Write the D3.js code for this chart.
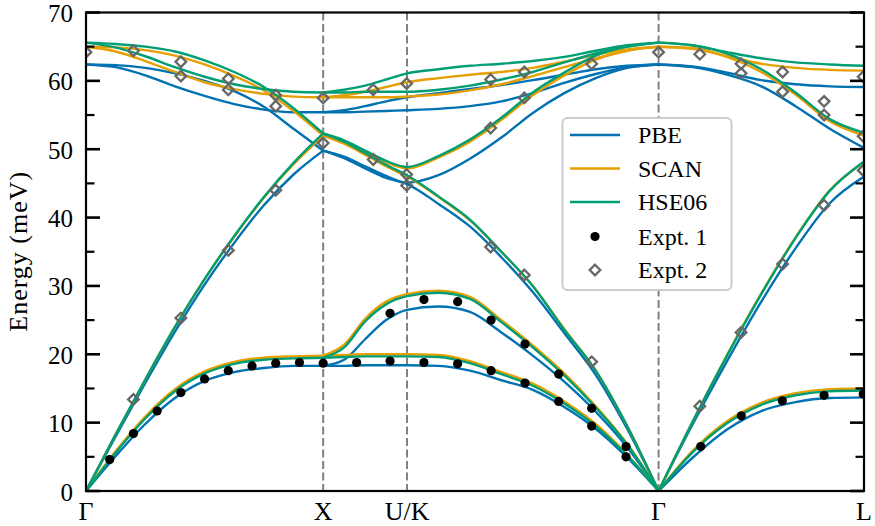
<!DOCTYPE html>
<html>
<head>
<meta charset="utf-8">
<script src="https://cdn.jsdelivr.net/npm/d3@7"></script>
<style>
body { margin: 0; background: #fff; }
svg text { font-family: "Liberation Serif", "DejaVu Serif", serif; fill: #000; }
</style>
</head>
<body>
<svg width="875" height="526"></svg>
<script>
// path positions (2pi/a) and labels
const xTickPos = [0, 1, 1.3536, 2.4142, 3.2803];
const xTickLabels = ["Γ", "X", "U/K", "Γ", "L"];
const yTickVals = [0, 10, 20, 30, 40, 50, 60, 70];
const yMinorVals = [5, 15, 25, 35, 45, 55, 65];
const methods = ["PBE", "SCAN", "HSE06"];
const colors = ["#0072B2", "#E69F00", "#009E73"];

// q grids for each segment
const qGX = [0, 0.125, 0.25, 0.375, 0.5, 0.625, 0.75, 0.875, 1];
const qXG = [1, 1.0884, 1.1768, 1.2652, 1.3536, 1.4862, 1.6188, 1.7513, 1.8839, 2.0165, 2.1491, 2.2817, 2.4142];
const qGL = [2.4142, 2.5585, 2.7029, 2.8472, 2.9916, 3.1359, 3.2803];

// PBE branches (meV)
const pbeGX = [
  [0, 5.1, 9.8, 13.6, 16.1, 17.4, 18.0, 18.3, 18.3],
  [0, 8.0, 15.8, 23.3, 30.2, 36.3, 41.8, 46.3, 49.8],
  [62.4, 62.0, 60.8, 59.2, 57.8, 56.6, 55.8, 55.4, 55.4],
  [62.4, 62.3, 61.9, 61.1, 60.0, 58.5, 56.2, 53.0, 49.8]
];
const pbeXG = [
  [18.3, 18.3, 18.4, 18.4, 18.4, 18.3, 17.6, 16.2, 14.8, 12.3, 9.1, 4.9, 0],
  [18.3, 19.2, 22.2, 25.0, 26.5, 27.0, 26.2, 23.2, 19.8, 16.0, 11.6, 6.4, 0],
  [49.8, 48.7, 47.2, 45.8, 44.9, 42.0, 38.7, 34.2, 29.1, 23.1, 17.0, 9.1, 0],
  [49.8, 48.9, 47.5, 46.1, 45.1, 46.2, 48.6, 51.7, 55.3, 58.2, 60.4, 61.9, 62.4],
  [55.4, 55.4, 55.5, 55.6, 55.7, 55.9, 56.3, 57.0, 58.2, 59.7, 61.0, 62.0, 62.4],
  [55.4, 55.7, 56.3, 57.0, 57.6, 58.2, 58.8, 59.4, 60.1, 60.9, 61.7, 62.2, 62.4]
];
const pbeGL = [
  [0, 4.9, 9.0, 11.7, 13.0, 13.6, 13.7],
  [0, 9.8, 19.0, 27.7, 35.5, 42.1, 46.0],
  [62.4, 62.0, 60.9, 59.2, 56.3, 53.0, 50.2],
  [62.4, 62.1, 61.2, 60.1, 59.5, 59.2, 59.1]
];

// SCAN branches
const scanGX = [
  [0, 5.8, 10.9, 14.9, 17.5, 18.9, 19.5, 19.7, 19.8],
  [0, 8.3, 16.3, 24.0, 31.0, 37.2, 42.9, 47.8, 52.0],
  [65.0, 64.3, 62.9, 61.3, 59.8, 58.8, 58.1, 57.7, 57.6],
  [65.0, 64.9, 64.5, 63.7, 62.4, 60.7, 58.6, 55.6, 52.0]
];
const scanXG = [
  [19.8, 19.9, 20.0, 20.0, 20.0, 19.9, 19.0, 17.4, 15.7, 13.1, 9.8, 5.3, 0],
  [19.8, 21.4, 25.2, 27.7, 28.8, 29.3, 28.4, 25.0, 21.3, 17.2, 12.4, 6.9, 0],
  [52.0, 50.8, 49.2, 47.5, 46.0, 43.0, 39.6, 35.0, 30.0, 23.7, 17.6, 9.5, 0],
  [52.0, 51.0, 49.6, 48.1, 47.2, 48.8, 51.1, 54.3, 57.9, 60.8, 63.1, 64.4, 65.0],
  [57.6, 57.6, 57.6, 57.6, 57.7, 58.0, 58.6, 59.5, 60.7, 62.0, 63.3, 64.4, 65.0],
  [57.6, 57.9, 58.4, 59.1, 59.8, 60.4, 60.9, 61.3, 61.9, 62.8, 63.8, 64.6, 65.0]
];
const scanGL = [
  [0, 5.9, 10.2, 12.9, 14.3, 14.9, 15.0],
  [0, 10.2, 19.9, 28.9, 37.1, 44.0, 48.1],
  [65.0, 64.7, 63.5, 61.3, 58.0, 54.1, 52.0],
  [65.0, 64.8, 63.6, 62.5, 61.9, 61.6, 61.5]
];

// HSE06 branches
const hseGX = [
  [0, 5.6, 10.6, 14.6, 17.2, 18.6, 19.2, 19.4, 19.5],
  [0, 8.3, 16.3, 24.0, 31.0, 37.3, 43.0, 48.0, 52.3],
  [65.6, 64.9, 63.6, 62.0, 60.6, 59.5, 58.8, 58.4, 58.3],
  [65.6, 65.4, 65.0, 64.3, 63.0, 61.3, 59.1, 56.0, 52.3]
];
const hseXG = [
  [19.5, 19.6, 19.7, 19.7, 19.7, 19.6, 18.7, 17.1, 15.4, 12.8, 9.5, 5.2, 0],
  [19.5, 21.0, 24.8, 27.3, 28.5, 29.0, 28.1, 24.7, 21.0, 16.9, 12.2, 6.8, 0],
  [52.3, 51.1, 49.4, 47.7, 46.2, 43.1, 39.7, 35.0, 30.0, 23.6, 17.6, 9.5, 0],
  [52.3, 51.3, 49.8, 48.3, 47.4, 49.0, 51.4, 54.6, 58.3, 61.2, 63.7, 65.0, 65.6],
  [58.3, 58.3, 58.4, 58.4, 58.4, 58.7, 59.3, 60.2, 61.3, 62.7, 64.0, 65.0, 65.6],
  [58.3, 58.7, 59.3, 60.2, 61.1, 61.7, 62.2, 62.5, 62.9, 63.5, 64.4, 65.2, 65.6]
];
const hseGL = [
  [0, 5.7, 9.9, 12.6, 14.0, 14.6, 14.7],
  [0, 10.2, 19.8, 28.8, 37.0, 43.9, 48.2],
  [65.6, 65.2, 64.0, 61.7, 58.3, 54.4, 52.4],
  [65.6, 65.2, 64.2, 63.3, 62.7, 62.4, 62.2]
];

// experiment 1 (dots)
const expt1Q = [0.1, 0.2, 0.3, 0.4, 0.5, 0.6, 0.7, 0.8, 0.9, 1.0, 1.141, 1.282, 1.282,
  1.425, 1.425, 1.567, 1.567, 1.708, 1.708, 1.851, 1.851, 1.993, 1.993, 2.132, 2.132, 2.277, 2.277,
  2.592, 2.763, 2.936, 3.112, 3.277];
const expt1E = [4.6, 8.4, 11.7, 14.4, 16.4, 17.6, 18.3, 18.7, 18.8, 18.7, 18.8, 19.0, 26.0,
  18.8, 28.0, 18.6, 27.7, 17.6, 25.0, 15.8, 21.5, 13.1, 17.1, 9.5, 12.1, 5.0, 6.5,
  6.5, 11.0, 13.2, 14.0, 14.2];

// experiment 2 (open diamonds)
const expt2Q = [0, 0.2, 0.4, 0.4, 0.6, 0.6, 0.8, 0.8, 1.0, 1.0, 0.2, 0.4, 0.6, 0.8,
  1.211, 1.211, 1.352, 1.352, 1.352,
  1.706, 1.706, 1.706, 1.848, 1.848, 1.848, 2.132, 2.132, 2.414,
  2.588, 2.762, 2.762, 2.937, 2.937, 3.112, 3.112, 3.277, 3.277, 3.277,
  2.588, 2.762, 2.937, 3.112];
const expt2E = [64.2, 64.4, 62.8, 60.7, 60.3, 58.7, 57.9, 56.3, 57.5, 50.9, 13.4, 25.3, 35.2, 44.0,
  58.7, 48.5, 59.6, 46.3, 44.7,
  60.2, 53.1, 35.7, 61.3, 57.5, 31.6, 62.5, 18.9, 64.2,
  63.9, 62.5, 61.1, 61.3, 58.4, 57.0, 55.0, 60.6, 51.9, 46.9,
  12.4, 23.2, 33.2, 41.8];

const grids = [qGX, qXG, qGL];
const bands = [[pbeGX, pbeXG, pbeGL], [scanGX, scanXG, scanGL], [hseGX, hseXG, hseGL]];

const svg = d3.select('svg');
const pLeft = 86, pRight = 864, pTop = 12.5, pBottom = 491;

const x = d3.scaleLinear().domain([0, 3.2803]).range([pLeft, pRight]);
const y = d3.scaleLinear().domain([0, 70]).range([pBottom, pTop]);

svg.append('defs').append('clipPath').attr('id', 'plotclip')
  .append('rect')
  .attr('x', pLeft).attr('y', pTop)
  .attr('width', pRight - pLeft).attr('height', pBottom - pTop);

// dashed lines at high-symmetry points
svg.append('g').selectAll('line')
  .data(xTickPos.slice(1, 4))
  .join('line')
  .attr('x1', d => x(d)).attr('x2', d => x(d))
  .attr('y1', pTop).attr('y2', pBottom)
  .attr('stroke', '#808080')
  .attr('stroke-width', 2)
  .attr('stroke-dasharray', '8,3.5');

const plot = svg.append('g').attr('clip-path', 'url(#plotclip)');

// bands, one path per branch per segment
const line = d3.line().curve(d3.curveMonotoneX);
bands.forEach((segs, m) => {
  segs.forEach((branches, s) => {
    const q = grids[s];
    branches.forEach(vals => {
      plot.append('path')
        .attr('d', line(vals.map((e, i) => [x(q[i]), y(e)])))
        .attr('fill', 'none')
        .attr('stroke', colors[m])
        .attr('stroke-width', 2.4)
        .attr('stroke-linejoin', 'round');
    });
  });
});

// dots
plot.append('g').selectAll('circle')
  .data(expt1Q)
  .join('circle')
  .attr('cx', d => x(d))
  .attr('cy', (d, i) => y(expt1E[i]))
  .attr('r', 4.6)
  .attr('fill', '#000');

// diamonds
const dia = 'M0,-5.3L5.3,0L0,5.3L-5.3,0Z';
plot.append('g').selectAll('path')
  .data(expt2Q)
  .join('path')
  .attr('d', dia)
  .attr('transform', (d, i) => `translate(${x(d)},${y(expt2E[i])})`)
  .attr('fill', 'none')
  .attr('stroke', '#666666')
  .attr('stroke-width', 2.3);

// frame
svg.append('rect')
  .attr('x', pLeft).attr('y', pTop)
  .attr('width', pRight - pLeft).attr('height', pBottom - pTop)
  .attr('fill', 'none')
  .attr('stroke', '#000')
  .attr('stroke-width', 2.2);

// y ticks, inward on both sides
const ticks = svg.append('g').attr('stroke', '#000');
yTickVals.forEach(v => {
  ticks.append('line').attr('x1', pLeft).attr('x2', pLeft + 14).attr('y1', y(v)).attr('y2', y(v)).attr('stroke-width', 2.6);
  ticks.append('line').attr('x1', pRight).attr('x2', pRight - 14).attr('y1', y(v)).attr('y2', y(v)).attr('stroke-width', 2.6);
});
yMinorVals.forEach(v => {
  ticks.append('line').attr('x1', pLeft).attr('x2', pLeft + 8.5).attr('y1', y(v)).attr('y2', y(v)).attr('stroke-width', 2.2);
  ticks.append('line').attr('x1', pRight).attr('x2', pRight - 8.5).attr('y1', y(v)).attr('y2', y(v)).attr('stroke-width', 2.2);
});

svg.append('g').selectAll('text')
  .data(yTickVals)
  .join('text')
  .attr('x', 73)
  .attr('y', d => y(d))
  .attr('dy', '0.38em')
  .attr('text-anchor', 'end')
  .style('font-size', '25px')
  .text(d => d);

svg.append('g').selectAll('text')
  .data(xTickPos)
  .join('text')
  .attr('x', d => x(d))
  .attr('y', 520)
  .attr('text-anchor', 'middle')
  .style('font-size', '26px')
  .text((d, i) => xTickLabels[i]);

svg.append('text')
  .attr('transform', `translate(27,${(pTop + pBottom) / 2}) rotate(-90)`)
  .attr('text-anchor', 'middle')
  .attr('textLength', 160)
  .attr('lengthAdjust', 'spacing')
  .style('font-size', '26px')
  .text('Energy (meV)');

// legend
const lg = svg.append('g');
lg.append('rect')
  .attr('x', 562.5).attr('y', 118)
  .attr('width', 169).attr('height', 172)
  .attr('rx', 5)
  .attr('fill', '#fff')
  .attr('stroke', '#cccccc')
  .attr('stroke-width', 2);

const legendY = [135, 168.5, 202, 236.5, 270];
const legendText = methods.concat(['Expt. 1', 'Expt. 2']);
methods.forEach((m, i) => {
  lg.append('line')
    .attr('x1', 570).attr('x2', 620)
    .attr('y1', legendY[i]).attr('y2', legendY[i])
    .attr('stroke', colors[i])
    .attr('stroke-width', 2.6);
});
lg.append('circle').attr('cx', 595).attr('cy', legendY[3]).attr('r', 4.6).attr('fill', '#000');
lg.append('path').attr('d', dia)
  .attr('transform', `translate(595,${legendY[4]})`)
  .attr('fill', 'none').attr('stroke', '#666666').attr('stroke-width', 2.3);
legendText.forEach((t, i) => {
  lg.append('text')
    .attr('x', 638)
    .attr('y', legendY[i] + 8)
    .style('font-size', '24px')
    .text(t);
});
</script>
</body>
</html>
